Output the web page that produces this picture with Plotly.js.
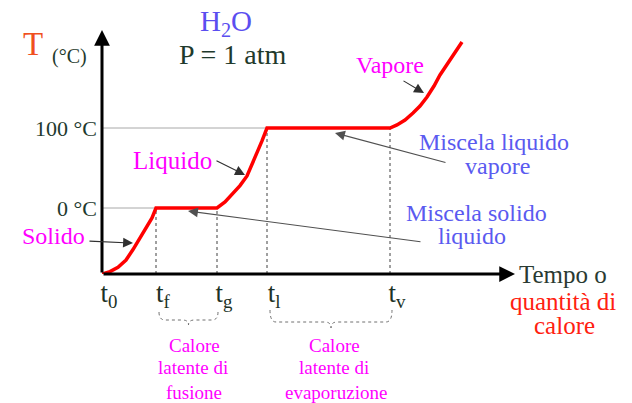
<!DOCTYPE html>
<html>
<head>
<meta charset="utf-8">
<script src="https://cdn.plot.ly/plotly-3.0.1.min.js"></script>
<style>html,body{margin:0;padding:0;background:#fff;}#chart{width:632px;height:403px;}</style>
</head>
<body>
<div id="chart"></div>
<script>
// ---- data ----
const tickTimes = [0, 5.4, 11.5, 16.5, 28.8];
const tickLabels = ['t<sub>0</sub>', 't<sub>f</sub>', 't<sub>g</sub>', 't<sub>l</sub>', 't<sub>v</sub>'];
const tempLevels = [0, 100];
const tempLabels = ['0 °C', '100 °C'];
const curveTime = [0, 0.8, 1.6, 2.4, 3.1, 3.8, 4.5, 5.0, 5.4,
                   11.5, 12.3, 13.1, 13.8, 14.5, 15.0, 15.5, 16.0, 16.5,
                   28.8, 29.5, 30.3, 31.1, 31.8, 32.5, 33.2, 33.8, 34.5, 35.3, 36.0];
const curveTemp = [-82.5, -79.5, -74, -65, -52, -38, -23.8, -12.5, 0,
                   0, 7.5, 18, 28, 40, 53.8, 68.8, 83.8, 100,
                   100, 103.8, 110, 118.8, 127.5, 138.8, 152.5, 166.3, 180, 193.8, 207.5];
const tStart = 0, tEnd = 41.3;     // axis extent (time)
const Tmin = -82.5, Tmax = 222.5;  // axis extent (temperature)

const FONT = 'Liberation Serif, Times New Roman, serif';

function tempAt(t) {
  const i = curveTime.indexOf(t);
  return curveTemp[i];
}

// dashed verticals from axis to the curve at tf, tg, tl, tv
const dashX = [], dashY = [];
tickTimes.slice(1).forEach(t => { dashX.push(t, t, null); dashY.push(Tmin, tempAt(t), null); });

// gray reference lines from the axis to the start of each plateau
const refX = [tStart, tickTimes[1], null, tStart, tickTimes[3]];
const refY = [tempLevels[0], tempLevels[0], null, tempLevels[1], tempLevels[1]];

const traces = [
  {x: refX, y: refY, mode: 'lines', line: {color: '#a8a8a8', width: 1}, hoverinfo: 'skip'},
  {x: dashX, y: dashY, mode: 'lines', line: {color: '#404040', width: 1, dash: '3px,3px'}, hoverinfo: 'skip'},
  {x: curveTime, y: curveTemp, mode: 'lines', line: {color: '#ff0000', width: 3.5}, hoverinfo: 'skip'}
];

// layout helpers: pixel position -> paper coordinates
const L = 102, R = 115, T = 30, B = 129, W = 632, H = 403;
const pw = W - L - R, ph = H - T - B;
function px(x) { return (x - L) / pw; }
function py(y) { return (H - B - y) / ph; }

function label(text, x, y, size, color) {
  return {xref: 'paper', yref: 'paper', x: px(x), y: py(y), text: text,
    showarrow: false, xanchor: 'center', yanchor: 'middle',
    font: {family: FONT, size: size, color: color}};
}
function arrow(x0, y0, x1, y1, w, s, c) {
  return {xref: 'x', yref: 'y', axref: 'x', ayref: 'y', x: x1, y: y1, ax: x0, ay: y0,
    text: '', showarrow: true, arrowhead: 2, arrowwidth: w, arrowsize: s, arrowcolor: c};
}

const MAG = '#ff00ff', BLUE = '#5a5af0', DARK = '#1f3a2c', RED = '#ff2010';

const annotations = [
  // axes with arrow heads
  arrow(tStart, Tmin, tEnd, Tmin, 3, 1.05, '#000'),
  arrow(tStart, Tmin, tStart, Tmax, 3, 1.05, '#000'),
  // pointer arrows
  arrow(-1.4, -41.3, 3.1, -43.8, 1.1, 1.8, '#303030'),
  arrow(11.3, 60, 14.3, 41.3, 1.1, 1.8, '#303030'),
  arrow(30.0, 160, 32.2, 143.8, 1.1, 1.8, '#303030'),
  arrow(34.5, 56.3, 23.3, 93.8, 1.1, 1.8, '#505050'),
  arrow(32.0, -42.5, 8.6, -3.8, 1.1, 1.8, '#505050'),
  // texts
  label('T', 33, 44, 33, '#f0501e'),
  label('(°C)', 69, 57, 20, DARK),
  label('H<sub>2</sub>O', 226, 23, 29, '#5b4ef0'),
  label('P = 1 atm', 233, 55, 28, DARK),
  label('Vapore', 390, 65, 24, MAG),
  label('Miscela liquido', 494, 142, 24, BLUE),
  label('vapore', 497, 166, 24, BLUE),
  label('Miscela solido', 476, 213, 24, BLUE),
  label('liquido', 472, 236, 24, BLUE),
  label('Liquido', 172, 160, 25, MAG),
  label('Solido', 53, 236, 24, MAG),
  label('Tempo o', 563, 274, 25, '#2a3a32'),
  label('quantità di', 563, 301, 25, RED),
  label('calore', 564, 325, 25, RED),
  label('Calore', 194, 345, 19, MAG),
  label('latente di', 193, 367, 19, MAG),
  label('fusione', 194, 392, 19, MAG),
  label('Calore', 334, 345, 19, MAG),
  label('latente di', 334, 367, 19, MAG),
  label('evaporuzione', 336, 392, 19, MAG)
];

// curly braces under the latent-heat intervals
function brace(x0, x1, yTopPx, yMidPx, yBotPx) {
  const yt = py(yTopPx), ym = py(yMidPx), yb = py(yBotPx);
  const xm = (x0 + x1) / 2, d = 0.6;
  return {type: 'path', xref: 'x', yref: 'paper', layer: 'above',
    line: {color: '#707070', width: 1, dash: 'dot'},
    path: `M${x0},${yt} Q${x0},${ym} ${x0 + d},${ym} L${xm - d},${ym} Q${xm},${ym} ${xm},${yb} ` +
          `Q${xm},${ym} ${xm + d},${ym} L${x1 - d},${ym} Q${x1},${ym} ${x1},${yt}`};
}
const shapes = [
  brace(tickTimes[1] + 0.3, tickTimes[2] + 0.1, 312, 320, 325),
  brace(tickTimes[3] + 0.3, tickTimes[4] + 0.2, 310, 322, 328)
];

const layout = {
  width: W, height: H,
  margin: {l: L, r: R, t: T, b: B, pad: 0},
  paper_bgcolor: '#fff', plot_bgcolor: '#fff',
  showlegend: false,
  xaxis: {range: [0, 41.5], showgrid: false, zeroline: false, showline: false,
    tickvals: tickTimes, ticktext: tickLabels, ticks: '',
    tickfont: {family: FONT, size: 27, color: '#1c3226'},
    ticklabelshift: 7, ticklabelstandoff: 0},
  yaxis: {range: [Tmin, Tmax], showgrid: false, zeroline: false, showline: false,
    tickvals: tempLevels, ticktext: tempLabels, ticks: '',
    tickfont: {family: FONT, size: 22, color: '#1e3a2e'},
    ticklabelstandoff: 4},
  shapes: shapes,
  annotations: annotations
};

Plotly.newPlot('chart', traces, layout, {staticPlot: true, displayModeBar: false});
</script>
</body>
</html>
